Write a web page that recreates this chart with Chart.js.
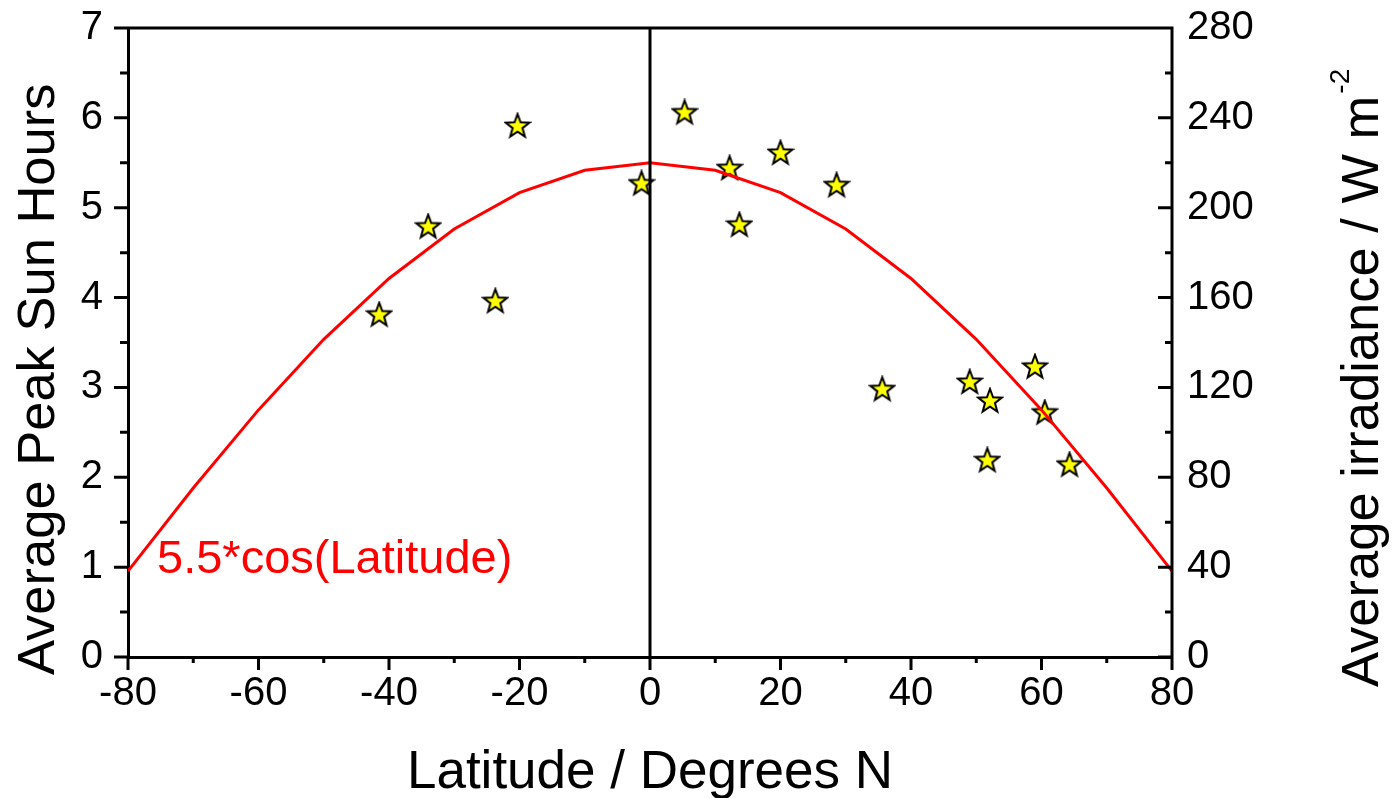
<!DOCTYPE html>
<html>
<head>
<meta charset="utf-8">
<script src="https://cdn.jsdelivr.net/npm/chart.js@4.4.1/dist/chart.umd.min.js"></script>
<style>
  html, body { margin: 0; padding: 0; background: #fff; }
  #wrap { width: 1395px; height: 798px; }
</style>
</head>
<body>
<div id="wrap"><canvas id="myChart" width="1395" height="798"></canvas></div>
<script>
// measured sites
const latitudes = [-41.5, -34.0, -23.7, -20.3, -1.3, 5.3, 12.2, 13.7, 20.0, 28.6, 35.6, 49.0, 51.7, 52.1, 59.0, 60.5, 64.3];
const sunHours = [3.81, 4.79, 3.96, 5.91, 5.27, 6.06, 5.44, 4.81, 5.61, 5.25, 2.98, 3.06, 2.19, 2.85, 3.23, 2.72, 2.14];

// 5.5*cos(latitude) curve, read every 10 degrees
const fitLat = [-80, -70, -60, -50, -40, -30, -20, -10, 0, 10, 20, 30, 40, 50, 60, 70, 80];
const fitHours = [0.955, 1.881, 2.75, 3.535, 4.213, 4.763, 5.168, 5.416, 5.5, 5.416, 5.168, 4.763, 4.213, 3.535, 2.75, 1.881, 0.955];

const equatorLine = [0, 7];

const xTitle = 'Latitude / Degrees N';
const yTitle = 'Average Peak Sun Hours';
const y2Title = 'Average irradiance / W m';
const y2Sup = '-2';
const fitLabel = '5.5*cos(Latitude)';

const FONT = '"Liberation Sans", Arial, sans-serif';

// filled star marker
let starImg = document.createElement('canvas');
starImg.width = 28;
starImg.height = 28;
(function () {
    let c = starImg.getContext('2d');
    c.beginPath();
    for (let i = 0; i < 10; i++) {
        let r = i % 2 === 0 ? 12.5 : 5.2;
        let a = -Math.PI / 2 + i * Math.PI / 5;
        let px = 14 + r * Math.cos(a), py = 14.5 + r * Math.sin(a);
        if (i === 0) c.moveTo(px, py); else c.lineTo(px, py);
    }
    c.closePath();
    c.fillStyle = '#ffff00';
    c.fill();
    c.lineWidth = 2;
    c.lineJoin = 'miter';
    c.strokeStyle = '#000';
    c.stroke();
})();

// ticks, frame and titles
const decorPlugin = {
    id: 'decor',
    afterDraw(chart) {
        const ctx = chart.ctx;
        const area = chart.chartArea;
        const x = chart.scales.x, y = chart.scales.y, y2 = chart.scales.y2;
        ctx.save();
        ctx.strokeStyle = '#000';
        ctx.lineWidth = 3;
        ctx.lineCap = 'butt';
        ctx.beginPath();
        // frame top & right
        ctx.moveTo(area.left - 1.5, area.top);
        ctx.lineTo(area.right + 1.5, area.top);
        ctx.moveTo(area.right, area.top);
        ctx.lineTo(area.right, area.bottom);
        // x ticks (outward)
        for (let v = -80; v <= 80; v += 10) {
            let px = x.getPixelForValue(v);
            let len = v % 20 === 0 ? 13 : 6;
            ctx.moveTo(px, area.bottom);
            ctx.lineTo(px, area.bottom + len);
        }
        // left y ticks (outward)
        for (let v = 0; v <= 7; v += 0.5) {
            let py = y.getPixelForValue(v);
            let len = v % 1 === 0 ? 14 : 8;
            ctx.moveTo(area.left, py);
            ctx.lineTo(area.left - len, py);
        }
        // right y ticks (inward)
        for (let v = 0; v <= 280; v += 20) {
            let py = y2.getPixelForValue(v);
            let len = v % 40 === 0 ? 14 : 7;
            ctx.moveTo(area.right, py);
            ctx.lineTo(area.right - len, py);
        }
        ctx.stroke();

        ctx.fillStyle = '#000';
        ctx.textBaseline = 'alphabetic';

        // x title
        ctx.font = '53px ' + FONT;
        ctx.textAlign = 'center';
        ctx.fillText(xTitle, (area.left + area.right) / 2, 788);

        // left title
        ctx.save();
        ctx.translate(54, 675);
        ctx.rotate(-Math.PI / 2);
        ctx.textAlign = 'left';
        ctx.font = '52.5px ' + FONT;
        ctx.fillText(yTitle, 0, 0);
        ctx.restore();

        // right title with superscript
        ctx.save();
        ctx.translate(1378, 687);
        ctx.rotate(-Math.PI / 2);
        ctx.textAlign = 'left';
        ctx.font = '52.5px ' + FONT;
        ctx.fillText(y2Title, 0, 0);
        let w = ctx.measureText(y2Title).width;
        ctx.font = '28px ' + FONT;
        ctx.fillText(y2Sup, w + 2, -29);
        ctx.restore();

        // fit label
        ctx.fillStyle = '#ff0000';
        ctx.font = '47px ' + FONT;
        ctx.textAlign = 'left';
        ctx.fillText(fitLabel, area.left + 29, 573);
        ctx.restore();
    }
};

const noPadY = (w) => (s) => {
    s.width = w;
    s.paddingTop = 0;
    s.paddingBottom = 0;
};

const ctx = document.getElementById('myChart');

let chart = new Chart(ctx, {
    type: 'scatter',
    data: {
        datasets: [{
            // equator
            type: 'line',
            data: equatorLine.map(v => ({ x: 0, y: v })),
            borderColor: '#000',
            borderWidth: 3,
            pointRadius: 0,
            yAxisID: 'y'
        },
        {
            type: 'line',
            data: fitLat.map((v, i) => ({ x: v, y: fitHours[i] })),
            borderColor: '#ff0000',
            borderWidth: 3,
            pointRadius: 0,
            tension: 0,
            yAxisID: 'y'
        },
        {
            data: latitudes.map((v, i) => ({ x: v, y: sunHours[i] })),
            pointStyle: starImg,
            pointRadius: 13,
            yAxisID: 'y'
        }]
    },
    options: {
        responsive: false,
        animation: false,
        layout: { padding: { top: 28, left: 0, right: 0, bottom: 0 } },
        plugins: {
            legend: { display: false },
            tooltip: { enabled: false }
        },
        scales: {
            x: {
                type: 'linear',
                min: -80,
                max: 80,
                afterFit: (s) => { s.height = 141; s.paddingLeft = 0; s.paddingRight = 0; },
                border: { display: true, color: '#000', width: 3 },
                grid: { display: true, drawOnChartArea: false, drawTicks: false },
                ticks: {
                    stepSize: 20,
                    padding: 13,
                    color: '#000',
                    font: { family: FONT, size: 40 }
                }
            },
            y: {
                min: 0,
                max: 7,
                afterFit: noPadY(128),
                border: { display: true, color: '#000', width: 3 },
                grid: { display: true, drawOnChartArea: false, drawTicks: false },
                ticks: {
                    stepSize: 1,
                    padding: 25,
                    color: '#000',
                    font: { family: FONT, size: 40 }
                }
            },
            y2: {
                position: 'right',
                min: 0,
                max: 280,
                afterFit: noPadY(223),
                border: { display: false },
                grid: { display: true, drawOnChartArea: false, drawTicks: false },
                ticks: {
                    stepSize: 40,
                    padding: 15,
                    color: '#000',
                    font: { family: FONT, size: 40 }
                }
            }
        }
    },
    plugins: [decorPlugin]
});
</script>
</body>
</html>
